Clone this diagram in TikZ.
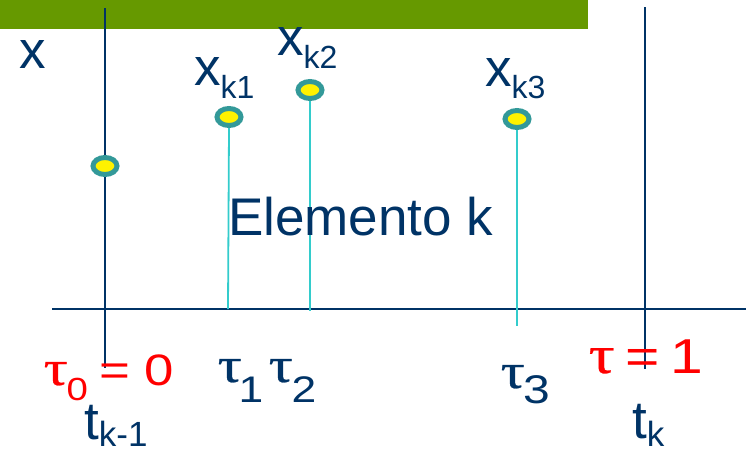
\documentclass[tikz,border=0pt]{standalone}
\usepackage{fontspec}
\setmainfont{Liberation Sans}
\newfontfamily\taufont[FakeBold=0.5]{Liberation Serif}
\usetikzlibrary{shapes.geometric}
\definecolor{dblue}{RGB}{0,51,102}
\definecolor{bargreen}{RGB}{102,153,0}
\definecolor{ringteal}{RGB}{51,153,153}
\definecolor{stemcyan}{RGB}{51,204,204}
\definecolor{tred}{RGB}{255,0,0}
\newcommand{\fs}[1]{\fontsize{#1}{#1}\selectfont}
\newcommand{\tauch}[1]{{\taufont\fontsize{#1}{#1}\selectfont τ}}
\newcommand{\lowered}[3]{\raisebox{-#1pt}{\fs{#2}#3}}
% place content at horizontal offset #1 (pt) from the label origin
\newcommand{\putat}[2]{\rlap{\hspace*{#1pt}#2}}
\tikzset{
  lbl/.style={inner sep=0pt, anchor=base west, text=dblue},
  redlbl/.style={inner sep=0pt, anchor=base west, text=tred},
  axisline/.style={draw=dblue, line width=2pt},
  stem/.style={draw=stemcyan, line width=1.8pt},
  bead/.style={ellipse, draw=ringteal, fill=yellow, line width=5pt,
               minimum width=24pt, minimum height=17pt, inner sep=0pt},
}
\begin{document}
\begin{tikzpicture}[x=1pt,y=-1pt]
\useasboundingbox (0,0) rectangle (746,455);
% green bar
\fill[bargreen] (0,0) rectangle (588,29);
% coordinates
\coordinate (vlTop) at (105,8);
\coordinate (vlBot) at (105,368);
\coordinate (vrTop) at (645,7);
\coordinate (vrBot) at (645,369);
\coordinate (axL) at (52,309);
\coordinate (axR) at (746,309);
\coordinate (s1b) at (228,309);
\coordinate (s2b) at (310,311);
\coordinate (s3b) at (517,326);
% axes
\draw[axisline] (vlTop) -- (vlBot);
\draw[axisline] (vrTop) -- (vrBot);
\draw[axisline] (axL) -- (axR);
% beads
\node[bead] (b0) at (105,166) {};
\node[bead] (b1) at (229,117) {};
\node[bead] (b2) at (310,90) {};
\node[bead] (b3) at (517,119) {};
% stems
\draw[stem] (b1.south) -- (s1b);
\draw[stem] (b2.south) -- (s2b);
\draw[stem] (b3.south) -- (s3b);
% labels
\node[lbl] (lx) at (19,68) {\fs{53}x};
\node[lbl] (lxk1) at (194,85) {\fs{53}x\lowered{13}{32}{k1}};
\node[lbl] (lxk2) at (277,55) {\fs{53}x\lowered{13}{32}{k2}};
\node[lbl] (lxk3) at (485,86) {\fs{53}x\lowered{12}{32}{k3}};
\node[lbl] (lel) at (228,235) {\fs{53}Elemento k};
\node[redlbl] (ltau0) at (43,385) {\scalebox{1.2}[1]{%
   \putat{0}{\tauch{50}}\putat{19}{\lowered{15}{32}{0}}%
   \putat{46.5}{\fs{44}=}\putat{84}{\fs{44}0}}};
\node[lbl] (ltau12) at (217,382) {\scalebox{1.2}[1]{%
   \putat{0}{\tauch{50}}\putat{17.5}{\lowered{20}{37}{1}}%
   \putat{42.5}{\tauch{50}}\putat{61.5}{\lowered{20}{37}{2}}}};
\node[lbl] (ltau3) at (500,388) {\scalebox{1.2}[1]{%
   \putat{0}{\tauch{50}}\putat{19}{\lowered{15}{40}{3}}}};
\node[redlbl] (ltau1) at (588,373) {\scalebox{1.2}[1]{%
   \putat{0}{\tauch{54}}\putat{30.5}{\fs{49}=}\putat{68}{\fs{49}1}}};
\node[lbl] (ltk1) at (84,439) {\fs{53}t\lowered{7}{35}{k-1}};
\node[lbl] (ltk) at (632,438) {\fs{53}t\lowered{8}{35}{k}};
\end{tikzpicture}
\end{document}
